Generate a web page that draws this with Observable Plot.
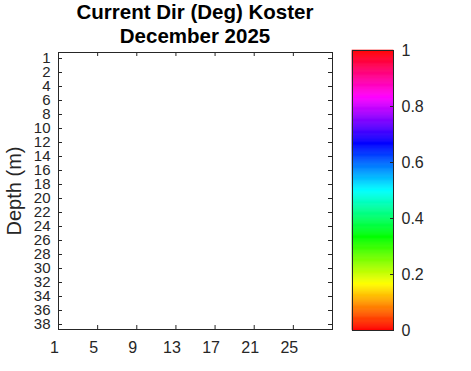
<!DOCTYPE html>
<html>
<head>
<meta charset="utf-8">
<script src="https://cdn.jsdelivr.net/npm/d3@7"></script>
<script src="https://cdn.jsdelivr.net/npm/@observablehq/plot@0.6"></script>
<style>
  html, body { margin: 0; padding: 0; background: #fff; }
  #wrap { position: relative; width: 471px; height: 371px; overflow: hidden; background: #fff;
          font-family: "Liberation Sans", Arial, sans-serif; color: #262626; }
  #title { position: absolute; left: 0; top: 0; width: 390px; text-align: center;
           font-weight: bold; font-size: 20.5px; line-height: 24px; color: #000; }
  #main, #cbar { position: absolute; top: 0; }
  #main { left: 0; }
  #cbar { left: 340px; }
</style>
</head>
<body>
<div id="wrap">
  <div id="main"></div>
  <div id="cbar"></div>
  <div id="title"></div>
</div>
<script>
// ---- data (empty chart: only axes and colour bar) ----
const titleLines = ["Current Dir (Deg) Koster", "December 2025"];
const yLabel = "Depth (m)";
const dayTicks = [1, 5, 9, 13, 17, 21, 25];
const dayDomain = [1, 29];
const depthTicks = [1, 2, 4, 6, 8, 10, 12, 14, 16, 18, 20, 22, 24, 26, 28, 30, 32, 34, 36, 38];
const cbarTicks = [0, 0.2, 0.4, 0.6, 0.8, 1];
const cbarSteps = d3.range(0, 256).map(i => i / 256);

document.getElementById("title").innerHTML = titleLines.join("<br>");

const ink = "#262626";
const font = "Liberation Sans, Arial, sans-serif";
const W = 345, H = 371, mT = 52, mB = 42, mL = 58, mR = 13;
const fw = W - mL - mR, fh = H - mT - mB;
const tk = 4;

const main = Plot.plot({
  width: W, height: H,
  marginTop: mT, marginBottom: mB, marginLeft: mL, marginRight: mR,
  style: { fontFamily: font, fontSize: "16px", color: ink, background: "transparent" },
  x: { type: "linear", domain: dayDomain },
  y: { type: "point", domain: depthTicks, padding: 0 },
  marks: [
    Plot.axisX(dayTicks, { tickSize: 0, tickPadding: 12, dx: -4, label: null, fill: ink, fontSize: 16 }),
    Plot.axisY(depthTicks, { tickSize: 0, tickPadding: 8, label: null, fill: ink, fontSize: 15 }),
    Plot.ruleX(dayTicks, { x: d => d, insetTop: fh - tk, stroke: ink }),
    Plot.ruleX(dayTicks, { x: d => d, insetBottom: fh - tk, stroke: ink }),
    Plot.ruleY(depthTicks, { y: d => d, insetRight: fw - tk, stroke: ink }),
    Plot.ruleY(depthTicks, { y: d => d, insetLeft: fw - tk, stroke: ink }),
    Plot.frame({ stroke: ink }),
    Plot.text([yLabel], { text: d => d, frameAnchor: "left", textAnchor: "middle", rotate: -90,
      dx: -44, fontSize: 20, fill: ink })
  ]
});
document.getElementById("main").appendChild(main);

const CW = 131, cT = 50, cB = 41, cL = 12, cR = 78;
const cbar = Plot.plot({
  width: CW, height: H,
  marginTop: cT, marginBottom: cB, marginLeft: cL, marginRight: cR,
  style: { fontFamily: font, fontSize: "16px", color: ink, background: "transparent" },
  x: { domain: [0, 1], axis: null },
  y: { domain: [0, 1] },
  color: { type: "linear", domain: [0, 1], interpolate: t => d3.hsl(t * 360, 1, 0.5).toString() },
  marks: [
    Plot.rect(cbarSteps, { x1: 0, x2: 1, y1: d => d, y2: d => d + 1 / 256,
      fill: d => d + 0.5 / 256, stroke: d => d + 0.5 / 256, strokeWidth: 0.6 }),
    Plot.axisY(cbarTicks, { anchor: "right", tickSize: 0, tickPadding: 8, label: null, fill: ink,
      tickFormat: d => String(d) }),
    Plot.ruleY(cbarTicks, { y: d => d, insetLeft: 41 - 3, stroke: ink }),
    Plot.frame({ stroke: ink })
  ]
});
document.getElementById("cbar").appendChild(cbar);
</script>
</body>
</html>
